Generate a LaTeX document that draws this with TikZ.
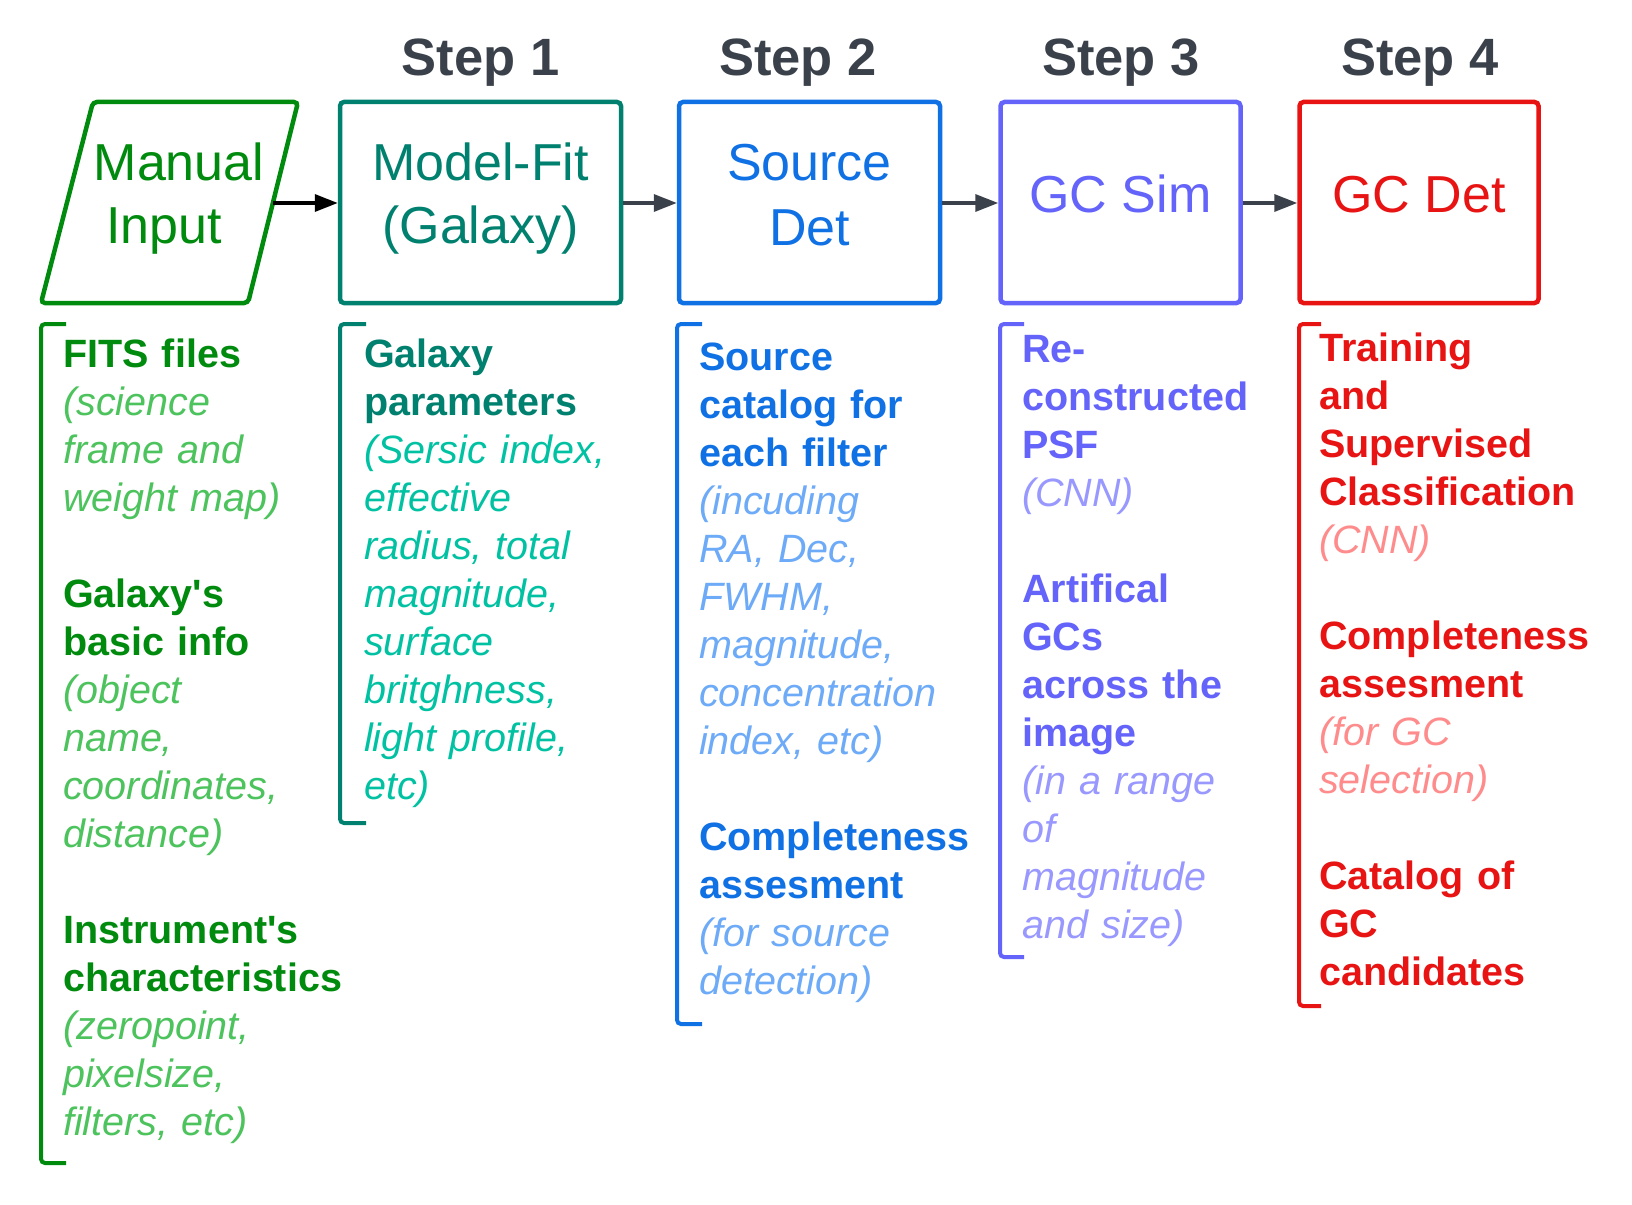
\documentclass[tikz,border=0pt]{standalone}
\usepackage{fontspec}
\setmainfont{Liberation Sans}[Ligatures=TeXOff]
\usetikzlibrary{arrows.meta}
\definecolor{cstep}{HTML}{3A414A}
\definecolor{dgreen}{HTML}{008A0E}
\definecolor{lgreen}{HTML}{4CC35C}
\definecolor{dteal}{HTML}{00806F}
\definecolor{lteal}{HTML}{00C2A3}
\definecolor{dblue}{HTML}{1071E5}
\definecolor{lblue}{HTML}{6DAAF7}
\definecolor{dpurple}{HTML}{6464FA}
\definecolor{lpurple}{HTML}{9898FF}
\definecolor{dred}{HTML}{E81313}
\definecolor{lred}{HTML}{FF8C8C}
\tikzset{
  stepbox/.style={draw, line width=4.5pt, rounded corners=4pt, minimum height=201pt, inner sep=0pt},
  boxlabel/.style={anchor=base, inner sep=0pt, font=\fontsize{52}{63}\selectfont},
  steptitle/.style={anchor=base, inner sep=0pt, text=cstep, font=\fontsize{52.5}{63}\selectfont\bfseries},
  desc/.style={anchor=base west, inner sep=0pt, text width=290pt, align=left, font=\fontsize{39.5}{48}\selectfont},
  bracket/.style={line width=4pt, rounded corners=4pt},
  flow/.style={line width=3.5pt, -{Triangle[length=23pt,width=17pt]}},
}
\begin{document}
\begin{tikzpicture}[x=1pt,y=-1pt]
\fill[white] (0,0) rectangle (1632,1204);
\useasboundingbox (0,0) rectangle (1632,1204);

% step titles
\node[steptitle] (t1) at (480.5,76) {Step 1};
\node[steptitle] (t2) at (798,76) {Step 2};
\node[steptitle] (t3) at (1121,76) {Step 3};
\node[steptitle] (t4) at (1420,76) {Step 4};

% manual input parallelogram
\draw[dgreen, line width=4.5pt, rounded corners=4pt] (93,102) -- (298,102) -- (248,303) -- (41,303) -- cycle;
\coordinate (mi) at (273,203);
\node[boxlabel, text=dgreen] (mi1) at (179,180) {Manual};
\node[boxlabel, text=dgreen] (mi2) at (164,243) {Input};

% step boxes
\node[stepbox, draw=dteal, minimum width=281pt] (mf) at (480.5,202.5) {};
\node[stepbox, draw=dblue, minimum width=261pt] (sd) at (809.5,202.5) {};
\node[stepbox, draw=dpurple, minimum width=240pt] (gs) at (1120.5,202.5) {};
\node[stepbox, draw=dred, minimum width=239pt] (gd) at (1419,202.5) {};

\node[boxlabel, text=dteal] (mf1) at (480.5,180) {Model-Fit};
\node[boxlabel, text=dteal] (mf2) at (480.5,243) {(Galaxy)};
\node[boxlabel, text=dblue] (sd1) at (809.5,180) {Source};
\node[boxlabel, text=dblue] (sd2) at (809.5,245) {Det};
\node[boxlabel, text=dpurple] (gs1) at (1120.5,212) {GC Sim};
\node[boxlabel, text=dred] (gd1) at (1419,212) {GC Det};

% arrows
\draw[flow, black] (mi) -- (mi -| mf.west);
\draw[flow, cstep] (mf.east |- mi) -- (sd.west |- mi);
\draw[flow, cstep] (sd.east |- mi) -- (gs.west |- mi);
\draw[flow, cstep] (gs.east |- mi) -- (gd.west |- mi);

% brackets
\draw[bracket, dgreen] (66,324) -- (41,324) -- (41,1163) -- (66,1163);
\draw[bracket, dteal] (366,324) -- (340,324) -- (340,823) -- (366,823);
\draw[bracket, dblue] (702,324) -- (677,324) -- (677,1024) -- (702,1024);
\draw[bracket, dpurple] (1024,324) -- (1000,324) -- (1000,957) -- (1024,957);
\draw[bracket, dred] (1321,324) -- (1299,324) -- (1299,1006) -- (1321,1006);

% descriptions
\node[desc, text=dgreen] (d1) at (63,367) {\textbf{FITS files}\\
{\itshape\color{lgreen}(science\\frame and\\weight map)}\\[48pt]
\textbf{Galaxy's}\\\textbf{basic info}\\
{\itshape\color{lgreen}(object\\name,\\coordinates,\\distance)}\\[48pt]
\textbf{Instrument's}\\\textbf{characteristics}\\
{\itshape\color{lgreen}(zeropoint,\\pixelsize,\\filters, etc)}};

\node[desc, text=dteal] (d2) at (364,367) {\textbf{Galaxy}\\\textbf{parameters}\\
{\itshape\color{lteal}(Sersic index,\\effective\\radius, total\\magnitude,\\surface\\britghness,\\light profile,\\etc)}};

\node[desc, text=dblue] (d3) at (699,370) {\textbf{Source}\\\textbf{catalog for}\\\textbf{each filter}\\
{\itshape\color{lblue}(incuding\\RA, Dec,\\FWHM,\\magnitude,\\concentration\\index, etc)}\\[48pt]
\textbf{Completeness}\\\textbf{assesment}\\
{\itshape\color{lblue}(for source\\detection)}};

\node[desc, text=dpurple] (d4) at (1022,362) {\textbf{Re-}\\\textbf{constructed}\\\textbf{PSF}\\
{\itshape\color{lpurple}(CNN)}\\[48pt]
\textbf{Artifical}\\\textbf{GCs}\\\textbf{across the}\\\textbf{image}\\
{\itshape\color{lpurple}(in a range\\of\\magnitude\\and size)}};

\node[desc, text=dred] (d5) at (1319,361) {\textbf{Training}\\\textbf{and}\\\textbf{Supervised}\\\textbf{Classification}\\
{\itshape\color{lred}(CNN)}\\[48pt]
\textbf{Completeness}\\\textbf{assesment}\\
{\itshape\color{lred}(for GC\\selection)}\\[48pt]
\textbf{Catalog of}\\\textbf{GC}\\\textbf{candidates}};
\end{tikzpicture}
\end{document}
